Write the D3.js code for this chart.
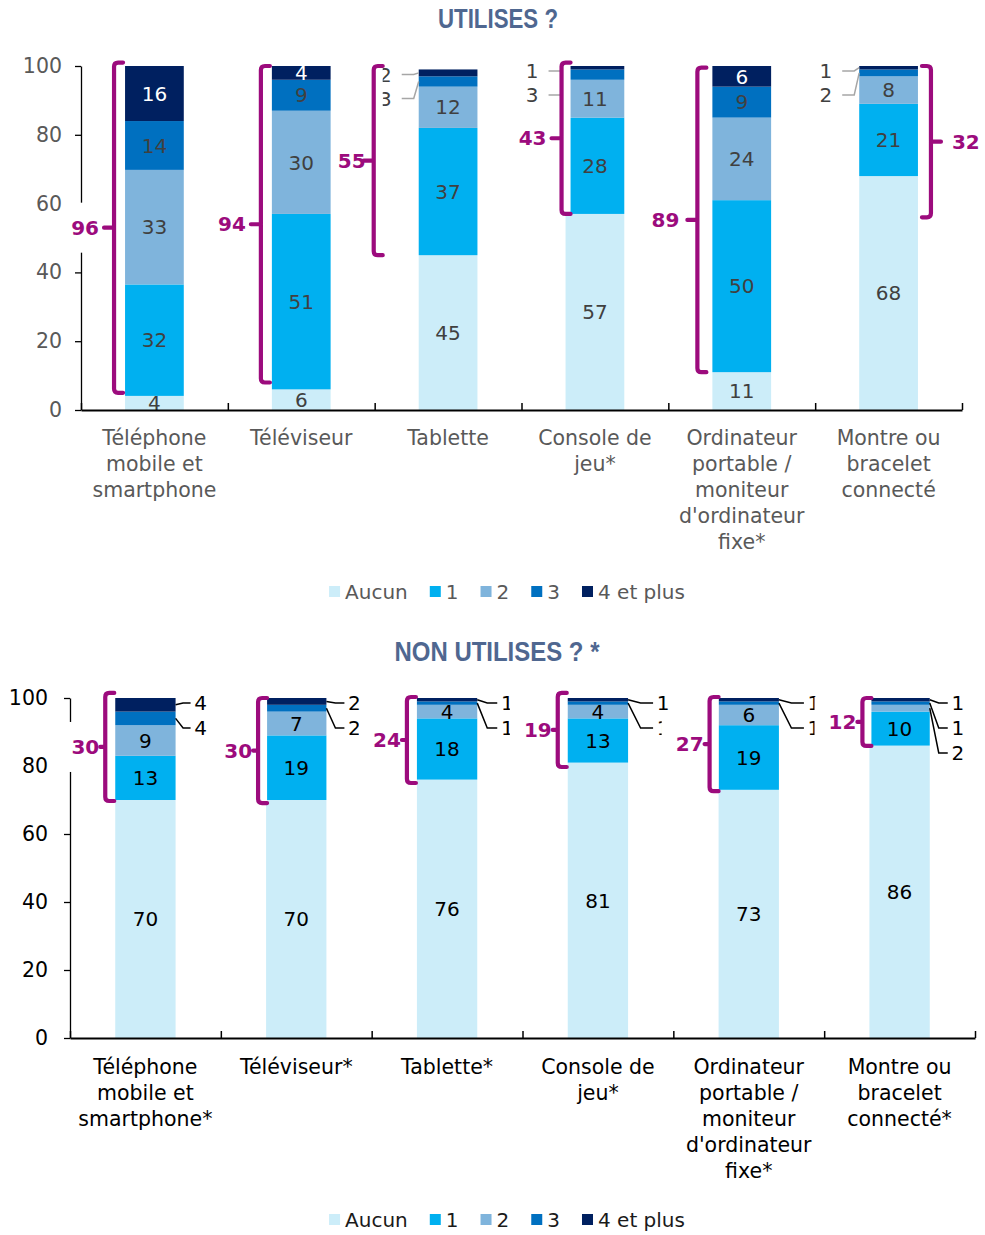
<!DOCTYPE html>
<html><head><meta charset="utf-8">
<script src="https://cdn.jsdelivr.net/npm/d3@7"></script>
<style>body{margin:0;background:#fff} svg{display:block}</style>
</head><body>
<svg id="c" width="985" height="1235"></svg>
<script>
// ---------- DATA ----------
const series = ["Aucun", "1", "2", "3", "4 et plus"];
const colors = ["#ccedf9", "#00b0f0", "#7fb4dc", "#0070c0", "#002060"];
const yTicks = [0, 20, 40, 60, 80, 100];

const topTitle = "UTILISES ?";
const topCategories = [["Téléphone","mobile et","smartphone"],["Téléviseur"],["Tablette"],["Console de","jeu*"],["Ordinateur","portable /","moniteur","d'ordinateur","fixe*"],["Montre ou","bracelet","connecté"]];
const topAucun  = [4.1, 6, 45, 57, 11, 68];
const topUn     = [32.4, 51, 37, 28, 50, 21];
const topDeux   = [33.3, 30, 12, 11, 24, 8];
const topTrois  = [14.2, 9, 3, 3, 9, 2];
const topQuatre = [16, 4, 2, 1, 6, 1];
const topTotals = [96, 94, 55, 43, 89, 32];
const topBracketLo = [5, 8, 45, 57, 11, 56];
const topBracketHi = [101, 100, 100, 101, 99.5, 100];
const topOutsideCount = [0, 0, 2, 2, 0, 2];

const botTitle = "NON UTILISES ? *";
const botCategories = [["Téléphone","mobile et","smartphone*"],["Téléviseur*"],["Tablette*"],["Console de","jeu*"],["Ordinateur","portable /","moniteur","d'ordinateur","fixe*"],["Montre ou","bracelet","connecté*"]];
const botAucun  = [70, 70, 76, 81, 73, 86];
const botUn     = [13, 19, 18, 13, 19, 10];
const botDeux   = [9, 7, 4, 4, 6, 2];
const botTrois  = [4, 2, 1, 1, 1, 1];
const botQuatre = [4, 2, 1, 1, 1, 1];
const botTotals = [30, 30, 24, 19, 27, 12];
const botBracketLo = [69.7, 69.1, 75, 79.7, 72.6, 85.9];
const botBracketHi = [101.5, 100, 100.3, 101.5, 100.3, 100];
const botOutsideCount = [2, 2, 2, 2, 2, 3];

// ---------- LAYOUT ----------
const svg = d3.select("#c");
const FONT = "'DejaVu Sans', Verdana, sans-serif";
const PURPLE = "#9c0b7d";

function drawChart(o) {
  const n = o.cats.length;
  const vals = o.vals;
  const rows = o.cats.map((c, i) => { const r = {}; series.forEach((s, k) => r[s] = vals[k][i]); return r; });
  const stacked = d3.stack().keys(series)(rows);
  const y = d3.scaleLinear().domain([0, 100]).range(o.yRange);
  const x = d3.scaleBand().domain(d3.range(n)).range(o.xRange).padding(0);
  const bw = x.bandwidth() * 0.4;
  const barL = i => x(i) + (x.bandwidth() - bw) / 2;
  const g = svg.append("g");

  // title
  g.append("text").attr("x", o.titleX).attr("y", o.titleY)
    .attr("text-anchor", "middle")
    .attr("font-family", "'Liberation Sans Narrow','Arial Narrow','Liberation Sans',Arial,sans-serif")
    .attr("font-weight", "bold").attr("font-size", 27)
    .attr("textLength", o.titleW).attr("lengthAdjust", "spacingAndGlyphs")
    .attr("fill", "#4f6790").text(o.title);

  // bars
  stacked.forEach((layer, k) => {
    g.append("g").selectAll("rect").data(layer).join("rect")
      .attr("x", (d, i) => barL(i)).attr("width", bw)
      .attr("y", d => y(d[1])).attr("height", d => y(d[0]) - y(d[1]))
      .attr("fill", colors[k]);
  });

  // inside labels
  stacked.forEach((layer, k) => {
    layer.forEach((d, i) => {
      const outsideFrom = 5 - o.outside[i];
      if (k >= outsideFrom) return;
      g.append("text").attr("x", barL(i) + bw / 2).attr("y", y((d[0] + d[1]) / 2))
        .attr("dy", "0.36em").attr("text-anchor", "middle")
        .attr("font-family", FONT).attr("font-size", 20)
        .attr("fill", k === 4 ? "#ffffff" : o.textDark)
        .text(Math.round(vals[k][i]));
    });
  });

  // outside labels with leader lines
  d3.range(n).forEach(i => {
    const m = o.outside[i];
    const total = d3.sum(vals, v => v[i]);
    for (let j = 0; j < m; j++) {
      const k = 4 - j;
      const d = stacked[k][i];
      const segMid = y((d[0] + d[1]) / 2);
      const ly = y(Math.min(total, 100)) + 5 + j * o.outSpacing;
      let pts, tx, anchor;
      if (o.outSide === "left") {
        const bx = barL(i);
        pts = [[bx, segMid], [bx - 5, ly], [bx - 17, ly]];
        tx = bx - 27; anchor = "end";
      } else {
        const bx = barL(i) + bw;
        const off = o.outOffset[i];
        pts = [[bx, segMid], [bx + (off - 10) / 2, ly], [bx + off - 10, ly]];
        tx = bx + off; anchor = "middle";
      }
      g.append("path").attr("d", d3.line()(pts)).attr("fill", "none")
        .attr("stroke", o.leaderColor).attr("stroke-width", 1.5);
      g.append("text").attr("x", tx).attr("y", ly).attr("dy", "0.36em")
        .attr("text-anchor", anchor).attr("font-family", FONT).attr("font-size", 20)
        .attr("fill", o.textDark).text(vals[k][i]);
    }
  });

  // y axis
  const ya = g.append("g").attr("transform", `translate(${o.xRange[0]},0)`)
    .call(d3.axisLeft(y).tickValues(yTicks).tickSize(6).tickSizeOuter(0).tickPadding(o.yPad));
  ya.select(".domain").attr("stroke", "#000").attr("stroke-width", 1.3);
  ya.selectAll(".tick line").attr("stroke", "#000").attr("stroke-width", 1.3);
  ya.selectAll(".tick text").attr("font-family", FONT).attr("font-size", 20.5).attr("fill", o.axisText);

  // x axis with ticks at category boundaries
  const xb = d3.scaleLinear().domain([0, n]).range(o.xRange);
  const xa = g.append("g").attr("transform", `translate(0,${o.yRange[0]})`)
    .call(d3.axisBottom(xb).tickValues(d3.range(n + 1)).tickSize(-7).tickSizeOuter(0).tickFormat(""));
  xa.select(".domain").attr("stroke", "#000").attr("stroke-width", 2);
  xa.selectAll(".tick line").attr("stroke", "#000").attr("stroke-width", 1.5);

  // category labels
  o.cats.forEach((lines, i) => {
    const t = g.append("text").attr("text-anchor", "middle")
      .attr("font-family", FONT).attr("font-size", 20.5).attr("fill", o.axisText);
    lines.forEach((ln, li) => {
      t.append("tspan").attr("x", x(i) + x.bandwidth() / 2)
        .attr("y", o.catY + li * 26).attr("dy", "0.36em").text(ln);
    });
  });

  // brackets
  d3.range(n).forEach(i => {
    const side = o.bSide[i];
    const y1 = y(o.bHi[i]), y2 = y(o.bLo[i]), ym = (y1 + y2) / 2;
    const h = 9, r = 4, t = o.midTick;
    let bx, dPath, mid, rectX;
    if (side === "left") {
      bx = barL(i) - o.bGap[i];
      dPath = `M${bx + h},${y1}H${bx + r}Q${bx},${y1} ${bx},${y1 + r}V${y2 - r}Q${bx},${y2} ${bx + r},${y2}H${bx + h}`;
      mid = `M${bx},${ym}H${bx - t}`;
      rectX = bx;
    } else {
      bx = barL(i) + bw + o.bGap[i];
      dPath = `M${bx - h},${y1}H${bx - r}Q${bx},${y1} ${bx},${y1 + r}V${y2 - r}Q${bx},${y2} ${bx - r},${y2}H${bx - h}`;
      mid = `M${bx},${ym}H${bx + t}`;
      rectX = bx - h;
    }
    g.append("rect").attr("x", rectX).attr("y", y1).attr("width", h).attr("height", y2 - y1).attr("fill", "#fff");
    const lbl = g.append("text").attr("y", ym).attr("dy", "0.36em")
      .attr("font-family", FONT).attr("font-weight", "bold").attr("font-size", 20)
      .attr("fill", PURPLE).text(o.totals[i]);
    if (side === "left") lbl.attr("text-anchor", "end").attr("x", bx - o.lblGap[i]);
    else lbl.attr("text-anchor", "start").attr("x", bx + 21);
    const bb = lbl.node().getBBox();
    let bxL, bxR;
    if (side === "left") {
      bxL = o.boxMode === "wide" ? (bb.x + bb.width / 2 - 28) : bb.x - 1;
      bxR = bx;
    } else { bxL = bx; bxR = bb.x + bb.width + 3; }
    g.insert("rect", () => lbl.node()).attr("x", bxL).attr("y", ym - 25)
      .attr("width", bxR - bxL).attr("height", 50).attr("fill", "#fff");
    g.append("path").attr("d", dPath + mid).attr("fill", "none").attr("stroke", PURPLE)
      .attr("stroke-width", 4.2).attr("stroke-linecap", "round").attr("stroke-linejoin", "round");
  });

  // legend
  const lg = g.append("g");
  let cx = 0;
  series.forEach((s, k) => {
    lg.append("rect").attr("x", cx).attr("y", -6).attr("width", 11).attr("height", 11).attr("fill", colors[k]);
    const tt = lg.append("text").attr("x", cx + 16).attr("y", 0).attr("dy", "0.36em")
      .attr("font-family", FONT).attr("font-size", 20).attr("fill", o.legendText).text(s);
    cx += 16 + tt.node().getComputedTextLength() + 22;
  });
  const totalW = cx - 22;
  lg.attr("transform", `translate(${o.legendCX - totalW / 2},${o.legendY})`);
}

drawChart({
  cats: topCategories, vals: [topAucun, topUn, topDeux, topTrois, topQuatre],
  totals: topTotals, bLo: topBracketLo, bHi: topBracketHi,
  bSide: ["left","left","left","left","left","right"], bGap: [11, 11, 45, 4, 15, 13],
  outside: topOutsideCount, outSide: "left", outSpacing: 24,
  yRange: [410, 66], xRange: [81, 962], yPad: 13,
  textDark: "#404040", axisText: "#595959", legendText: "#595959", leaderColor: "#a6a6a6",
  title: topTitle, titleX: 498, titleY: 28, titleW: 120,
  catY: 438, legendY: 592, legendCX: 507, midTick: 10, lblGap: [15, 15, 8, 15, 18, 0], boxMode: "tight"
});

drawChart({
  cats: botCategories, vals: [botAucun, botUn, botDeux, botTrois, botQuatre],
  totals: botTotals, bLo: botBracketLo, bHi: botBracketHi,
  bSide: ["left","left","left","left","left","left"], bGap: [10, 8, 10, 10, 9, 7],
  outside: botOutsideCount, outSide: "right", outSpacing: 25, outOffset: [25, 28, 30, 35, 35, 28],
  yRange: [1038, 698], xRange: [70, 975], yPad: 16,
  textDark: "#000000", axisText: "#000000", legendText: "#1a1a1a", leaderColor: "#000000",
  title: botTitle, titleX: 497, titleY: 661, titleW: 205,
  catY: 1067, legendY: 1220, legendCX: 507, midTick: 5, lblGap: [6, 6, 6, 6, 6, 6], boxMode: "wide"
});
</script>
</body></html>
